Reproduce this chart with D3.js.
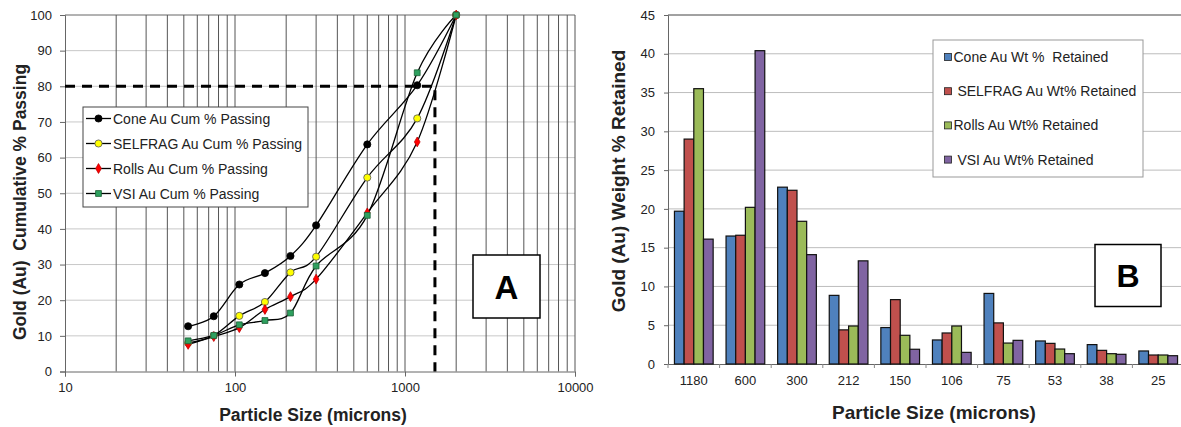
<!DOCTYPE html>
<html>
<head>
<meta charset="utf-8">
<script src="https://cdn.jsdelivr.net/npm/d3@7"></script>
<style>
body { margin: 0; background: #fff; }
text { font-family: "Liberation Sans", Arial, sans-serif; }
</style>
</head>
<body>
<div id="chart-section"></div>
<script>
// ---------- Chart A data : cumulative % passing ----------
var sizesA = [53, 75, 106, 150, 212, 300, 600, 1180, 2000];
var coneCum    = [12.7, 15.5, 24.4, 27.6, 32.4, 41.0, 63.7, 80.3, 100];
var selfragCum = [8.0, 10.1, 15.6, 19.5, 27.8, 32.2, 54.4, 71.0, 100];
var rollsCum   = [7.6, 9.8, 12.3, 17.4, 21.0, 25.9, 44.5, 64.4, 100];
var vsiCum     = [8.6, 10.1, 13.1, 14.3, 16.4, 29.6, 43.8, 83.8, 100];
var seriesA = ["Cone Au Cum % Passing", "SELFRAG Au Cum % Passing", "Rolls Au Cum % Passing", "VSI Au Cum % Passing"];
var p80Size = 1500, p80Level = 80;
var yTicksA = [0, 10, 20, 30, 40, 50, 60, 70, 80, 90, 100];
var xTicksA = [10, 100, 1000, 10000];

// ---------- Chart B data : weight % retained ----------
var sizesB = ["1180", "600", "300", "212", "150", "106", "75", "53", "38", "25"];
var coneWt    = [19.7, 16.5, 22.8, 8.85, 4.7, 3.1, 9.1, 2.97, 2.5, 1.68];
var selfragWt = [29.0, 16.6, 22.4, 4.4, 8.3, 4.0, 5.3, 2.66, 1.76, 1.16];
var rollsWt   = [35.5, 20.2, 18.4, 4.9, 3.7, 4.9, 2.7, 1.93, 1.33, 1.16];
var vsiWt     = [16.1, 40.4, 14.1, 13.3, 1.9, 1.5, 3.05, 1.33, 1.25, 1.07];
var seriesB = ["Cone Au Wt %  Retained", " SELFRAG Au Wt% Retained", "Rolls Au Wt% Retained", " VSI Au Wt% Retained"];
var yTicksB = [0, 5, 10, 15, 20, 25, 30, 35, 40, 45];

// ---------- settings ----------
var svgScreen = { width: 1181, height: 427 };
var plotA = { left: 65, right: 575, top: 15, bottom: 371.5 };
var plotB = { left: 668, right: 1184, top: 15, bottom: 364 };
var barColors = ["#4F81BD", "#C0504D", "#9BBB59", "#8064A2"];

var svg = d3.select("#chart-section").append("svg")
  .attr("width", svgScreen.width)
  .attr("height", svgScreen.height);

// ================= Chart A =================
var xA = d3.scaleLog().domain([10, 10000]).range([plotA.left, plotA.right]);
var yA = d3.scaleLinear().domain([0, 100]).range([plotA.bottom, plotA.top]);

var gA = svg.append("g");

// horizontal grid
gA.append("g").selectAll("line").data(yTicksA.slice(1))
  .enter().append("line")
  .attr("x1", plotA.left).attr("x2", plotA.right)
  .attr("y1", function(d){ return yA(d); }).attr("y2", function(d){ return yA(d); })
  .attr("stroke", function(d){ return d === 100 ? "#666" : "#c8c8c8"; })
  .attr("stroke-width", 1);

// vertical log grid
gA.append("g").selectAll("line").data(xA.ticks().filter(function(d){ return d > 10; }))
  .enter().append("line")
  .attr("x1", function(d){ return xA(d); }).attr("x2", function(d){ return xA(d); })
  .attr("y1", yA(0)).attr("y2", yA(100))
  .attr("stroke", "#555")
  .attr("stroke-width", 1);

var yAxisA = d3.axisLeft(yA).tickValues(yTicksA).tickSize(5).tickPadding(8);
var xAxisA = d3.axisBottom(xA).tickValues(xTicksA).tickFormat(d3.format("d")).tickSize(5).tickPadding(6);

gA.append("g").attr("transform", "translate(" + plotA.left + ",0)").call(yAxisA);
gA.append("g").attr("transform", "translate(0," + plotA.bottom + ")").call(xAxisA);

// P80 dashed guide
gA.append("path")
  .attr("d", d3.line()([[xA(10), yA(p80Level)], [xA(p80Size), yA(p80Level)], [xA(p80Size), yA(0)]]))
  .attr("fill", "none")
  .attr("stroke", "#000")
  .attr("stroke-width", 3)
  .attr("stroke-dasharray", "10,7");

var cumSeries = [coneCum, selfragCum, rollsCum, vsiCum];
var markerStyle = [
  { type: d3.symbolCircle, size: 40, fill: "#000", stroke: "#000" },
  { type: d3.symbolCircle, size: 40, fill: "#ffff00", stroke: "#555" },
  { type: d3.symbolDiamond, size: 28, fill: "#ff0000", stroke: "#c00000" },
  { type: d3.symbolSquare, size: 34, fill: "#2ea05f", stroke: "#1b5e34" }
];

var curveLine = d3.line()
  .x(function(d, i){ return xA(sizesA[i]); })
  .y(function(d){ return yA(d); })
  .curve(d3.curveCardinal.tension(0));

var pathGroup = gA.append("g").attr("class", "dot-traces");
cumSeries.forEach(function(vals){
  pathGroup.append("path")
    .datum(vals)
    .attr("fill", "none")
    .attr("stroke", "#000")
    .attr("stroke-width", 1.3)
    .attr("d", curveLine);
});
cumSeries.forEach(function(vals, s){
  var m = markerStyle[s];
  pathGroup.append("g").selectAll("path").data(vals).enter().append("path")
    .attr("transform", function(d, i){ return "translate(" + xA(sizesA[i]) + "," + yA(d) + ")"; })
    .attr("d", d3.symbol().type(m.type).size(m.size))
    .attr("fill", m.fill)
    .attr("stroke", m.stroke)
    .attr("stroke-width", 0.8);
});

// legend A
var legA = gA.append("g");
legA.append("rect").attr("x", 83).attr("y", 107).attr("width", 225).attr("height", 100)
  .attr("fill", "#fff").attr("stroke", "#444").attr("stroke-width", 1);
seriesA.forEach(function(name, s){
  var yy = 118.5 + s * 25;
  var m = markerStyle[s];
  legA.append("line").attr("x1", 86).attr("x2", 111).attr("y1", yy).attr("y2", yy)
    .attr("stroke", "#000").attr("stroke-width", 1.3);
  legA.append("path").attr("transform", "translate(98.5," + yy + ")")
    .attr("d", d3.symbol().type(m.type).size(m.size))
    .attr("fill", m.fill).attr("stroke", m.stroke).attr("stroke-width", 0.8);
  legA.append("text").attr("x", 113).attr("y", yy + 5).attr("font-size", 14).attr("fill", "#222").text(name);
});

// "A" label box
gA.append("rect").attr("x", 473).attr("y", 255).attr("width", 67).attr("height", 63)
  .attr("fill", "#fff").attr("stroke", "#000").attr("stroke-width", 1.5);
gA.append("text").attr("x", 506.5).attr("y", 298.5).attr("text-anchor", "middle")
  .attr("font-size", 33).attr("font-weight", "bold").text("A");

// titles
gA.append("text").attr("x", 313).attr("y", 421).attr("text-anchor", "middle")
  .attr("font-size", 17.5).attr("font-weight", "bold").attr("fill", "#222").text("Particle Size (microns)");
gA.append("text").attr("transform", "translate(26,202) rotate(-90)").attr("text-anchor", "middle")
  .attr("font-size", 17.5).attr("font-weight", "bold").attr("fill", "#222")
  .style("white-space", "pre").text("Gold (Au)  Cumulative % Passing");

// ================= Chart B =================
var xB = d3.scaleBand().domain(sizesB).range([plotB.left, plotB.right]).paddingInner(0.25).paddingOuter(0.125);
var xSub = d3.scaleBand().domain(d3.range(4)).range([0, xB.bandwidth()]);
var yB = d3.scaleLinear().domain([0, 45]).range([plotB.bottom, plotB.top]);

var gB = svg.append("g");

gB.append("g").selectAll("line").data(yTicksB.slice(1))
  .enter().append("line")
  .attr("x1", plotB.left).attr("x2", plotB.right)
  .attr("y1", function(d){ return yB(d); }).attr("y2", function(d){ return yB(d); })
  .attr("stroke", function(d){ return d === 45 ? "#444" : "#bdbdbd"; })
  .attr("stroke-width", 1);

var yAxisB = d3.axisLeft(yB).tickValues(yTicksB).tickSize(4).tickPadding(9);
gB.append("g").attr("transform", "translate(" + plotB.left + ",0)").call(yAxisB);

var xAxisB = d3.axisBottom(xB).tickSize(0).tickPadding(12);
gB.append("g").attr("transform", "translate(0," + plotB.bottom + ")").call(xAxisB);

// category boundary ticks
var step = xB.step();
gB.append("g").selectAll("line").data(d3.range(sizesB.length + 1))
  .enter().append("line")
  .attr("x1", function(i){ return plotB.left + i * step; })
  .attr("x2", function(i){ return plotB.left + i * step; })
  .attr("y1", plotB.bottom).attr("y2", plotB.bottom + 4)
  .attr("stroke", "#888");

var wtSeries = [coneWt, selfragWt, rollsWt, vsiWt];
wtSeries.forEach(function(vals, s){
  gB.append("g").selectAll("rect").data(vals).enter().append("rect")
    .attr("x", function(d, i){ return xB(sizesB[i]) + xSub(s); })
    .attr("y", function(d){ return yB(d); })
    .attr("width", xSub.bandwidth())
    .attr("height", function(d){ return yB(0) - yB(d); })
    .attr("fill", barColors[s])
    .attr("stroke", "#111")
    .attr("stroke-width", 1.2);
});

// legend B
var legB = gB.append("g");
legB.append("rect").attr("x", 933).attr("y", 40).attr("width", 210).attr("height", 137)
  .attr("fill", "#fff").attr("stroke", "#999").attr("stroke-width", 1);
seriesB.forEach(function(name, s){
  var yy = 57 + s * 34.2;
  legB.append("rect").attr("x", 944.5).attr("y", yy - 3.5).attr("width", 7).attr("height", 7)
    .attr("fill", barColors[s]).attr("stroke", "#222").attr("stroke-width", 0.8);
  legB.append("text").attr("x", 953.5).attr("y", yy + 5).attr("font-size", 14).attr("fill", "#222")
    .style("white-space", "pre").text(name);
});

// "B" label box
gB.append("rect").attr("x", 1095).attr("y", 244.5).attr("width", 66).attr("height", 62)
  .attr("fill", "#fff").attr("stroke", "#000").attr("stroke-width", 1.5);
gB.append("text").attr("x", 1128).attr("y", 287).attr("text-anchor", "middle")
  .attr("font-size", 32).attr("font-weight", "bold").text("B");

gB.append("text").attr("x", 934).attr("y", 419).attr("text-anchor", "middle")
  .attr("font-size", 19).attr("font-weight", "bold").attr("fill", "#222").text("Particle Size (microns)");
gB.append("text").attr("transform", "translate(625,181) rotate(-90)").attr("text-anchor", "middle")
  .attr("font-size", 19).attr("font-weight", "bold").attr("fill", "#222").text("Gold (Au) Weight % Retained");

// axis styling
svg.selectAll(".domain").attr("stroke", "#666");
svg.selectAll(".tick line").attr("stroke", "#666");
svg.selectAll(".tick text").attr("font-size", 13).attr("fill", "#222")
  .attr("font-family", "'Liberation Sans', Arial, sans-serif");
</script>
</body>
</html>
